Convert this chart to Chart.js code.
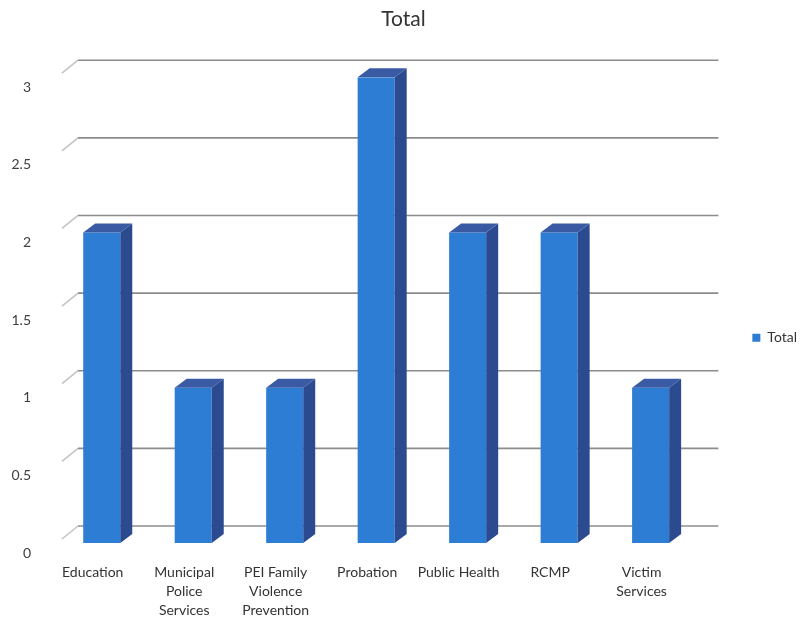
<!DOCTYPE html>
<html>
<head>
<meta charset="utf-8">
<script src="https://cdn.jsdelivr.net/npm/chart.js@4.4.0/dist/chart.umd.min.js"></script>
<style>
  body { margin: 0; background: #fff; }
  canvas { display: block; }
</style>
</head>
<body>
<canvas id="totalChart" width="801" height="629"></canvas>
<script>
/* === DADOS === */
const categories = [
  'Education',
  ['Municipal', 'Police', 'Services'],
  ['PEI Family', 'Violence', 'Prevention'],
  'Probation',
  'Public Health',
  'RCMP',
  ['Victim', 'Services']
];
const totals = [2, 1, 1, 3, 2, 2, 1];
const yTicks = [0, 0.5, 1, 1.5, 2, 2.5, 3];

const FONT = 'Lato, "Open Sans", sans-serif';
const DEPTH_X = 12, DEPTH_Y = 9;     // extrusion of the columns
const WALL_X = 16, WALL_Y = 17;      // depth of the back wall

/* === GRELHA 3D (parede de fundo) === */
const backWall = {
  id: 'backWall',
  beforeDatasetsDraw(chart) {
    const { ctx, chartArea, scales } = chart;
    const y = scales.y;
    ctx.save();
    ctx.lineWidth = 1.6;
    yTicks.forEach(v => {
      const py = y.getPixelForValue(v);
      ctx.strokeStyle = 'rgba(190,190,190,0.9)';
      ctx.beginPath();
      ctx.moveTo(chartArea.left + 6, py - 4);
      ctx.lineTo(chartArea.left + 6 + WALL_X, py - WALL_Y);
      ctx.stroke();
      ctx.strokeStyle = 'rgba(120,120,120,0.85)';
      ctx.beginPath();
      ctx.moveTo(chartArea.left + 6 + WALL_X, py - WALL_Y);
      ctx.lineTo(chartArea.right + 22, py - WALL_Y);
      ctx.stroke();
    });
    ctx.restore();
  }
};

/* === FACES LATERAL E SUPERIOR DAS COLUNAS === */
const columns3d = {
  id: 'columns3d',
  afterDatasetsDraw(chart) {
    const { ctx } = chart;
    chart.getDatasetMeta(0).data.forEach(bar => {
      const { x, y, base, width } = bar.getProps(['x', 'y', 'base', 'width'], true);
      const l = x - width / 2, r = x + width / 2;
      ctx.save();
      ctx.fillStyle = '#2c4a90';
      ctx.beginPath();
      ctx.moveTo(r, y);
      ctx.lineTo(r + DEPTH_X, y - DEPTH_Y);
      ctx.lineTo(r + DEPTH_X, base - DEPTH_Y);
      ctx.lineTo(r, base);
      ctx.closePath();
      ctx.fill();
      ctx.fillStyle = '#3a5ba4';
      ctx.beginPath();
      ctx.moveTo(l, y);
      ctx.lineTo(l + DEPTH_X, y - DEPTH_Y);
      ctx.lineTo(r + DEPTH_X, y - DEPTH_Y);
      ctx.lineTo(r, y);
      ctx.closePath();
      ctx.fill();
      ctx.restore();
    });
  }
};

const ctx = document.getElementById('totalChart').getContext('2d');

const chart = new Chart(ctx, {
  type: 'bar',
  data: {
    labels: categories,
    datasets: [{
      label: 'Total',
      data: totals,
      backgroundColor: '#2e7dd5',
      borderWidth: 0,
      categoryPercentage: 1,
      barPercentage: 0.405
    }]
  },
  options: {
    responsive: false,
    animation: false,
    layout: { padding: { left: 0, top: 0, bottom: 0, right: -6 } },
    plugins: {
      title: {
        display: true,
        text: 'Total',
        color: '#333',
        font: { family: FONT, size: 21, weight: 'normal' },
        padding: { top: 7, bottom: 45 }
      },
      legend: {
        position: 'right',
        title: { display: true, text: ' ', padding: { top: 32, bottom: 0 } },
        labels: {
          color: '#333',
          font: { family: FONT, size: 14 },
          boxWidth: 8,
          boxHeight: 8,
          padding: 10
        }
      },
      tooltip: { enabled: false }
    },
    scales: {
      x: {
        grid: { display: false },
        border: { display: false },
        ticks: {
          color: '#333',
          font: { family: FONT, size: 14, lineHeight: 1.35 },
          padding: 12,
          labelOffset: -9,
          maxRotation: 0,
          autoSkip: false
        },
        afterFit(scale) { scale.height = 86; }
      },
      y: {
        min: 0,
        max: 3,
        grid: { display: false },
        border: { display: false },
        ticks: {
          stepSize: 0.5,
          color: '#404040',
          font: { family: FONT, size: 14 },
          padding: 17,
          labelOffset: 10,
          callback: v => String(v)
        },
        afterFit(scale) { scale.width = 56; }
      },
      yRight: {
        position: 'right',
        display: true,
        grid: { display: false },
        border: { display: false },
        ticks: { display: false },
        afterFit(scale) { scale.width = 46; }
      }
    }
  },
  plugins: [backWall, columns3d]
});
</script>
</body>
</html>
